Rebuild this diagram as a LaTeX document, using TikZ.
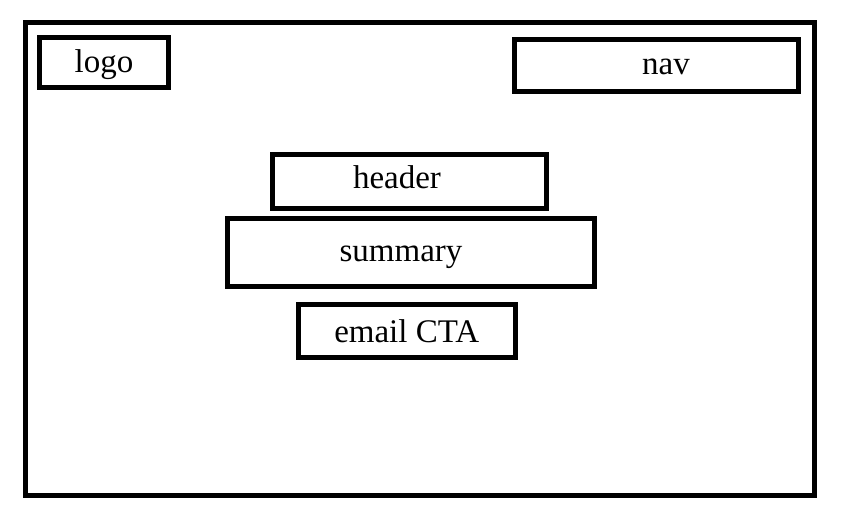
\documentclass[tikz,border=0pt]{standalone}
\usepackage{fontspec}
\setmainfont{Liberation Serif}
\usepackage{tikz}

\begin{document}
\begin{tikzpicture}
  [x=1pt,y=-1pt,
   frame/.style={draw,line width=5pt,rectangle,inner sep=0pt},
   label text/.style={anchor=base,inner sep=0pt,font=\fontsize{33}{39}\selectfont}]
  \useasboundingbox (0,0) rectangle (858,526);

  % page outline
  \node[frame,minimum width=789.2pt,minimum height=472.7pt] (page) at (419.6,258.85) {};

  % boxes
  \node[frame,minimum width=128.3pt,minimum height=50.5pt] (logo) at (103.85,62.75) {};
  \node[frame,minimum width=283.7pt,minimum height=52pt] (nav) at (656.65,65.8) {};
  \node[frame,minimum width=274pt,minimum height=53.4pt] (header) at (409.5,181.5) {};
  \node[frame,minimum width=366.7pt,minimum height=68pt] (summary) at (410.85,252.5) {};
  \node[frame,minimum width=216.7pt,minimum height=52.7pt] (email) at (406.85,331.15) {};

  % texts
  \node[label text] (logo-text) at (104,72.7) {logo};
  \node[label text] (nav-text) at (666,75) {nav};
  \node[label text] (header-text) at (397,189) {header};
  \node[label text] (summary-text) at (401,261.7) {summary};
  \node[label text] (email-text) at (406.7,342.3) {email CTA};

\end{tikzpicture}
\end{document}
